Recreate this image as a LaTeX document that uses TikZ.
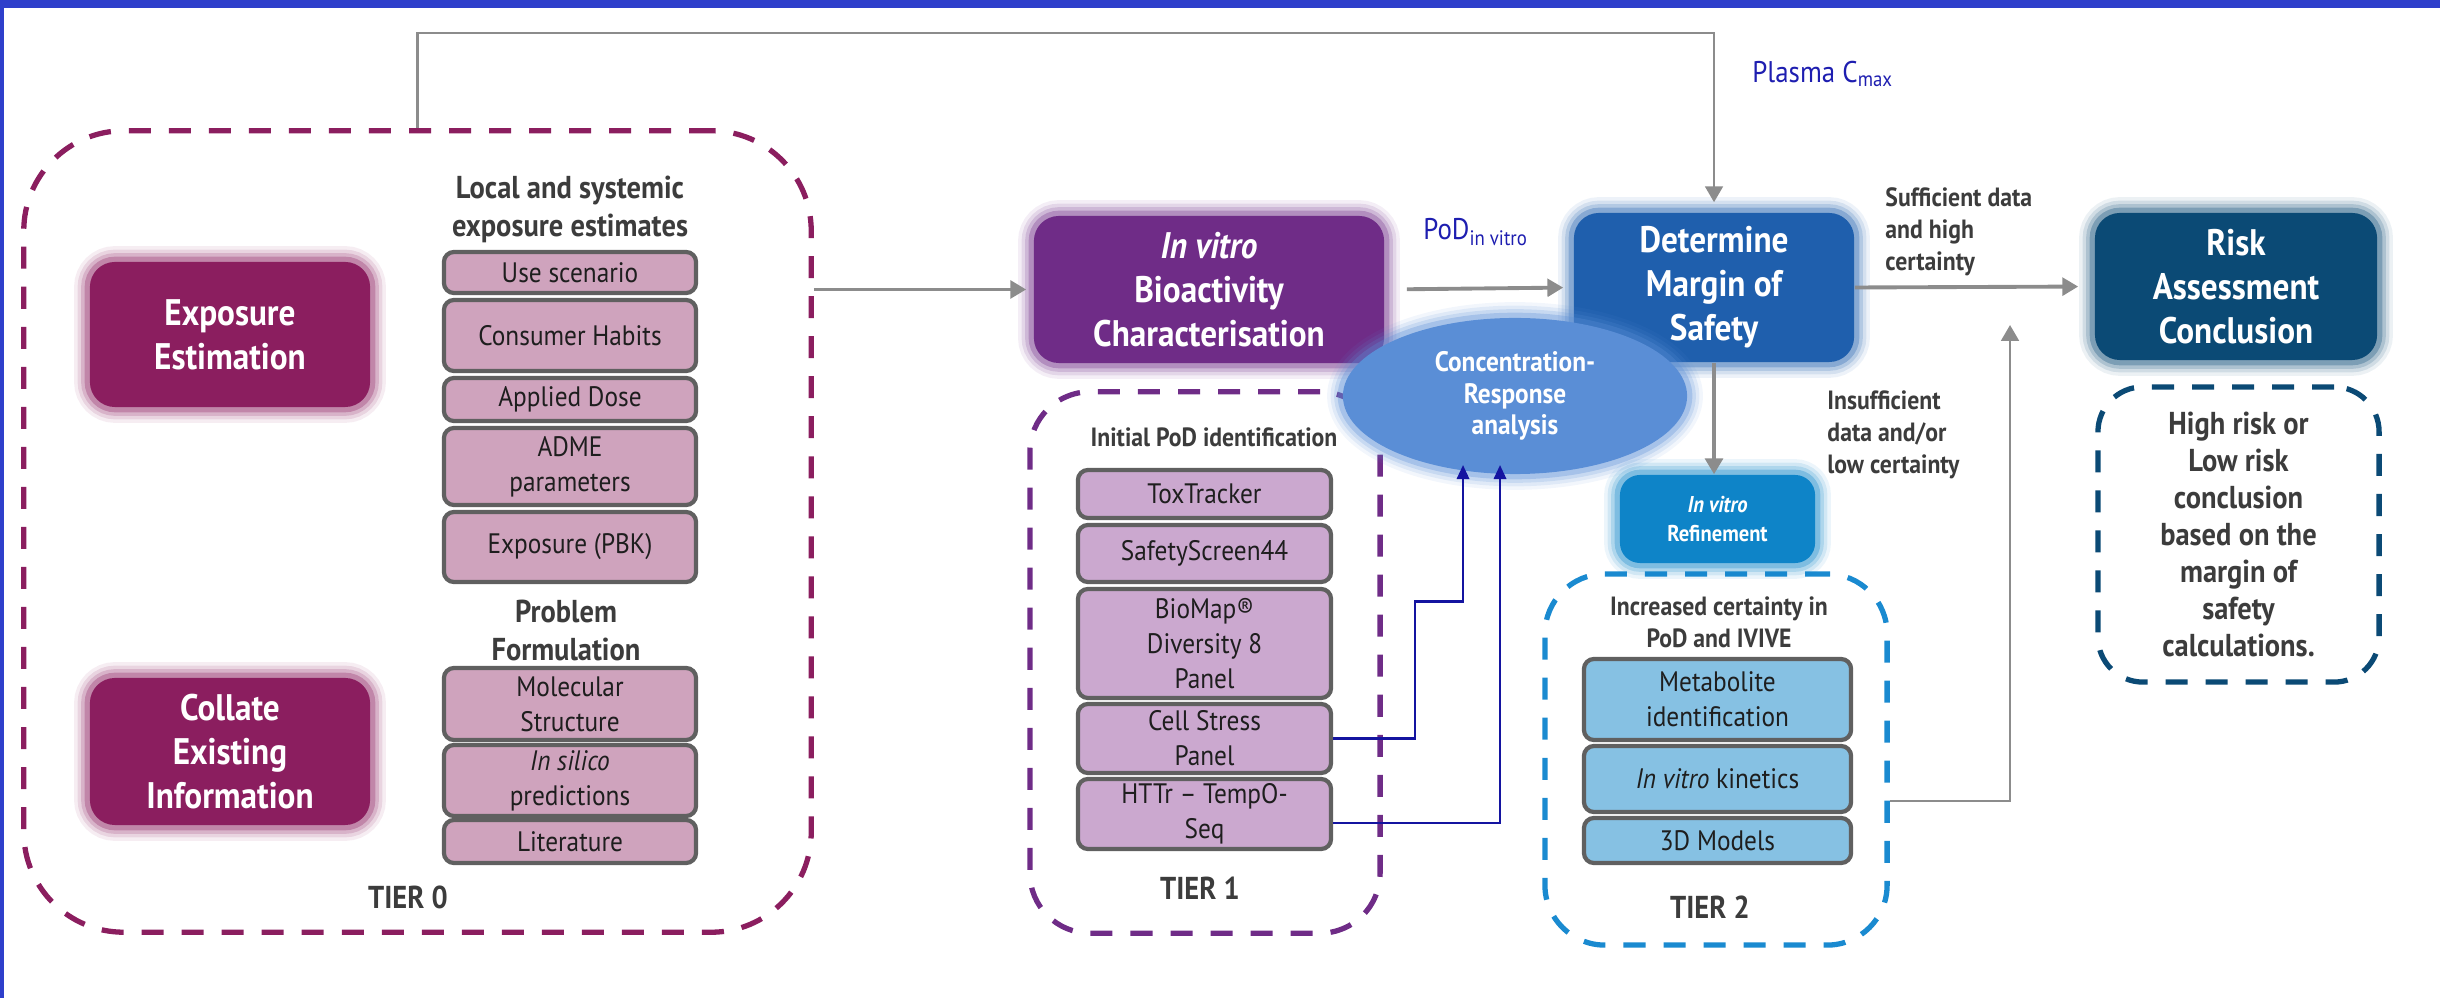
\documentclass[tikz,border=0pt]{standalone}
\usepackage{fontspec}
\setmainfont{PT Sans}[FakeStretch=0.9]
\usetikzlibrary{shapes.geometric,arrows.meta}

\definecolor{plum}{HTML}{8B1E5F}
\definecolor{pinkbox}{HTML}{CFA3BD}
\definecolor{ivpurple}{HTML}{6F2C87}
\definecolor{lilacbox}{HTML}{CBA8CF}
\definecolor{dmsblue}{HTML}{1F5FAD}
\definecolor{crblue}{HTML}{5A8ED6}
\definecolor{refblue}{HTML}{0E84C8}
\definecolor{tiertwo}{HTML}{1A8AD0}
\definecolor{skybox}{HTML}{86C1E3}
\definecolor{riskblue}{HTML}{0B4A75}
\definecolor{boxgrey}{HTML}{606060}
\definecolor{flowgrey}{HTML}{8C8C8C}
\definecolor{linkblue}{HTML}{1414A0}
\definecolor{labelblue}{HTML}{1E1EB0}
\definecolor{txtdark}{HTML}{1E1E1E}
\definecolor{txthead}{HTML}{3C3C3C}
\definecolor{bandblue}{HTML}{2E3FCB}

\begin{document}
\begin{tikzpicture}[x=0.01cm,y=-0.01cm,
  every node/.style={text=txtdark},
  mainbox/.style={rounded corners=0.25cm,text=white,align=center,inner sep=0pt,
    font=\bfseries\fontsize{10.5}{12.5}\selectfont},
  glow/.style={preaction={draw=#1,line width=9pt,opacity=0.08},
    preaction={draw=#1,line width=7pt,opacity=0.12},
    preaction={draw=#1,line width=5pt,opacity=0.18},
    preaction={draw=#1,line width=3pt,opacity=0.3}},
  itembox/.style={draw=boxgrey,line width=1.2pt,rounded corners=0.1cm,align=center,
    inner sep=0pt,font=\fontsize{8}{10}\selectfont},
  zeroitem/.style={itembox,fill=pinkbox,minimum width=2.52cm},
  oneitem/.style={itembox,fill=lilacbox,minimum width=2.53cm},
  twoitem/.style={itembox,fill=skybox,minimum width=2.67cm},
  tier/.style={dash pattern=on 0.22cm off 0.18cm,line width=1.5pt,rounded corners=#1},
  heading/.style={align=center,text=txthead,font=\bfseries\fontsize{9}{10.8}\selectfont},
  sidenote/.style={align=left,text=txthead,font=\bfseries\fontsize{7.5}{9.1}\selectfont},
  flow/.style={draw=flowgrey,line width=1.1pt,-{Triangle[length=4.5pt,width=5pt]}},
  bluelink/.style={draw=linkblue,line width=0.7pt,-{Triangle[length=4pt,width=3.5pt]}},
]
\useasboundingbox (0,0) rectangle (2440,998);
\fill[bandblue] (0,0) rectangle (2440,8);
\fill[bandblue] (0,0) rectangle (4,998);

% tier 0
\node[tier=1cm,draw=plum,minimum width=7.87cm,minimum height=8.01cm] (t0) at (417.5,531.5) {};
\node[mainbox,fill=plum,glow=plum,minimum width=2.8cm,minimum height=1.45cm] (expo) at (230,334.5) {Exposure\\Estimation};
\node[mainbox,fill=plum,glow=plum,minimum width=2.8cm,minimum height=1.47cm] (coll) at (230,751.5) {Collate\\Existing\\Information};
\node[heading] (lse) at (570,209) {Local and systemic\\exposure estimates};
\node[zeroitem,minimum height=0.41cm] (use) at (570,272.5) {Use scenario};
\node[zeroitem,minimum height=0.71cm] (habits) at (570,335.5) {Consumer Habits};
\node[zeroitem,minimum height=0.43cm] (dose) at (570,399.5) {Applied Dose};
\node[zeroitem,minimum height=0.77cm] (adme) at (570,466.5) {ADME\\parameters};
\node[zeroitem,minimum height=0.70cm] (pbk) at (570,547) {Exposure (PBK)};
\node[heading] (pf) at (566,630) {Problem\\Formulation};
\node[zeroitem,minimum height=0.72cm] (mol) at (570,704) {Molecular\\Structure};
\node[zeroitem,minimum height=0.71cm] (silico) at (570,780.5) {\textit{In silico}\\predictions};
\node[zeroitem,minimum height=0.43cm] (lit) at (570,841.5) {Literature};
\node[heading] (t0lab) at (408,897) {TIER 0};

% tier 1
\node[tier=0.6cm,draw=ivpurple,minimum width=3.5cm,minimum height=5.41cm] (t1) at (1205,662.5) {};
\node[mainbox,fill=ivpurple,glow=ivpurple,minimum width=3.5cm,minimum height=1.47cm] (ivb) at (1209,289.5) {\textit{In vitro}\\Bioactivity\\Characterisation};
\node[heading,font=\bfseries\fontsize{7.5}{9}\selectfont] (ipod) at (1214,437) {Initial PoD identification};
\node[oneitem,minimum height=0.48cm] (tox) at (1204.5,494) {ToxTracker};
\node[oneitem,minimum height=0.57cm] (ss44) at (1204.5,553.5) {SafetyScreen44};
\node[oneitem,minimum height=1.09cm] (biomap) at (1204.5,643.5) {BioMap®\\Diversity 8\\Panel};
\node[oneitem,minimum height=0.69cm] (csp) at (1204.5,738.5) {Cell Stress\\Panel};
\node[oneitem,minimum height=0.70cm] (httr) at (1204.5,814) {HTTr -- TempO-\\Seq};
\node[heading] (t1lab) at (1200,888) {TIER 1};

% tier 2
\node[tier=0.6cm,draw=tiertwo,minimum width=3.42cm,minimum height=3.71cm] (t2) at (1716,759.5) {};
\node[heading,font=\bfseries\fontsize{7.5}{9}\selectfont] (icert) at (1719,622) {Increased certainty in\\PoD and IVIVE};
\node[twoitem,minimum height=0.81cm] (metab) at (1717.5,699.5) {Metabolite\\identification};
\node[twoitem,minimum height=0.66cm] (kin) at (1717.5,779) {\textit{In vitro} kinetics};
\node[twoitem,minimum height=0.45cm] (models) at (1717.5,840.5) {3D Models};
\node[heading] (t2lab) at (1710,907) {TIER 2};

% margin of safety and conclusion
\node[mainbox,fill=dmsblue,glow=dmsblue,minimum width=2.8cm,minimum height=1.49cm] (dms) at (1714,287.5) {Determine\\Margin of\\Safety};
\node[mainbox,fill=riskblue,glow=riskblue,minimum width=2.82cm,minimum height=1.47cm] (risk) at (2236,286.5) {Risk\\Assessment\\Conclusion};
\node[tier=0.45cm,draw=riskblue,minimum width=2.81cm,minimum height=2.95cm,align=center,
  text=txthead,font=\bfseries\fontsize{9}{10.5}\selectfont] (concl) at (2238.5,534.5)
  {High risk or\\Low risk\\conclusion\\based on the\\margin of\\safety\\calculations.};
\node[mainbox,rounded corners=0.2cm,fill=refblue,glow=refblue,minimum width=1.95cm,minimum height=0.88cm,
  font=\bfseries\fontsize{6.5}{8}\selectfont] (ivr) at (1717.5,519) {\textit{In vitro}\\Refinement};
\node[ellipse,fill=crblue,glow=crblue,minimum width=3.44cm,minimum height=1.56cm,inner sep=0pt,
  align=center,text=white,font=\bfseries\fontsize{8}{9}\selectfont] (cr) at (1515,396) {Concentration-\\Response\\analysis};

% labels
\node[anchor=base west,text=labelblue,font=\fontsize{8.5}{10}\selectfont] (cmax) at (1740,83) {Plasma C\textsubscript{max}};
\node[anchor=base west,text=labelblue,font=\fontsize{8.5}{10}\selectfont] (pod) at (1411,240) {PoD\textsubscript{in vitro}};
\node[sidenote,anchor=west] (suff) at (1873,232) {Sufficient data\\and high\\certainty};
\node[sidenote,anchor=west] (insuff) at (1815,435) {Insufficient\\data and/or\\low certainty};

% connectors
\coordinate (toprail) at (0,33);
\coordinate (riskin) at (2010,325);
\coordinate (crin1) at (1463,465);
\coordinate (crin2) at (1500,465);
\draw[flow,line width=0.8pt,shorten >=0.1cm] (t0.north) |- (toprail -| dms.north) -- (dms.north);
\draw[flow,shorten >=0.07cm] (t0.east |- ivb.west) -- (ivb.west);
\draw[flow,shorten <=0.22cm,shorten >=0.1cm] (ivb.east) -- (dms.west);
\draw[flow,shorten >=0.16cm] (dms.east) -- (risk.west);
\draw[flow] (dms.south) -- (dms.south |- ivr.north);
\draw[flow,line width=0.8pt] ([yshift=-0.415cm]t2.east) -| (riskin);
\draw[bluelink] (csp.east) -| ++(82,-137) -| (crin1);
\draw[bluelink] ([yshift=-0.09cm]httr.east) -| (crin2);
\end{tikzpicture}
\end{document}
